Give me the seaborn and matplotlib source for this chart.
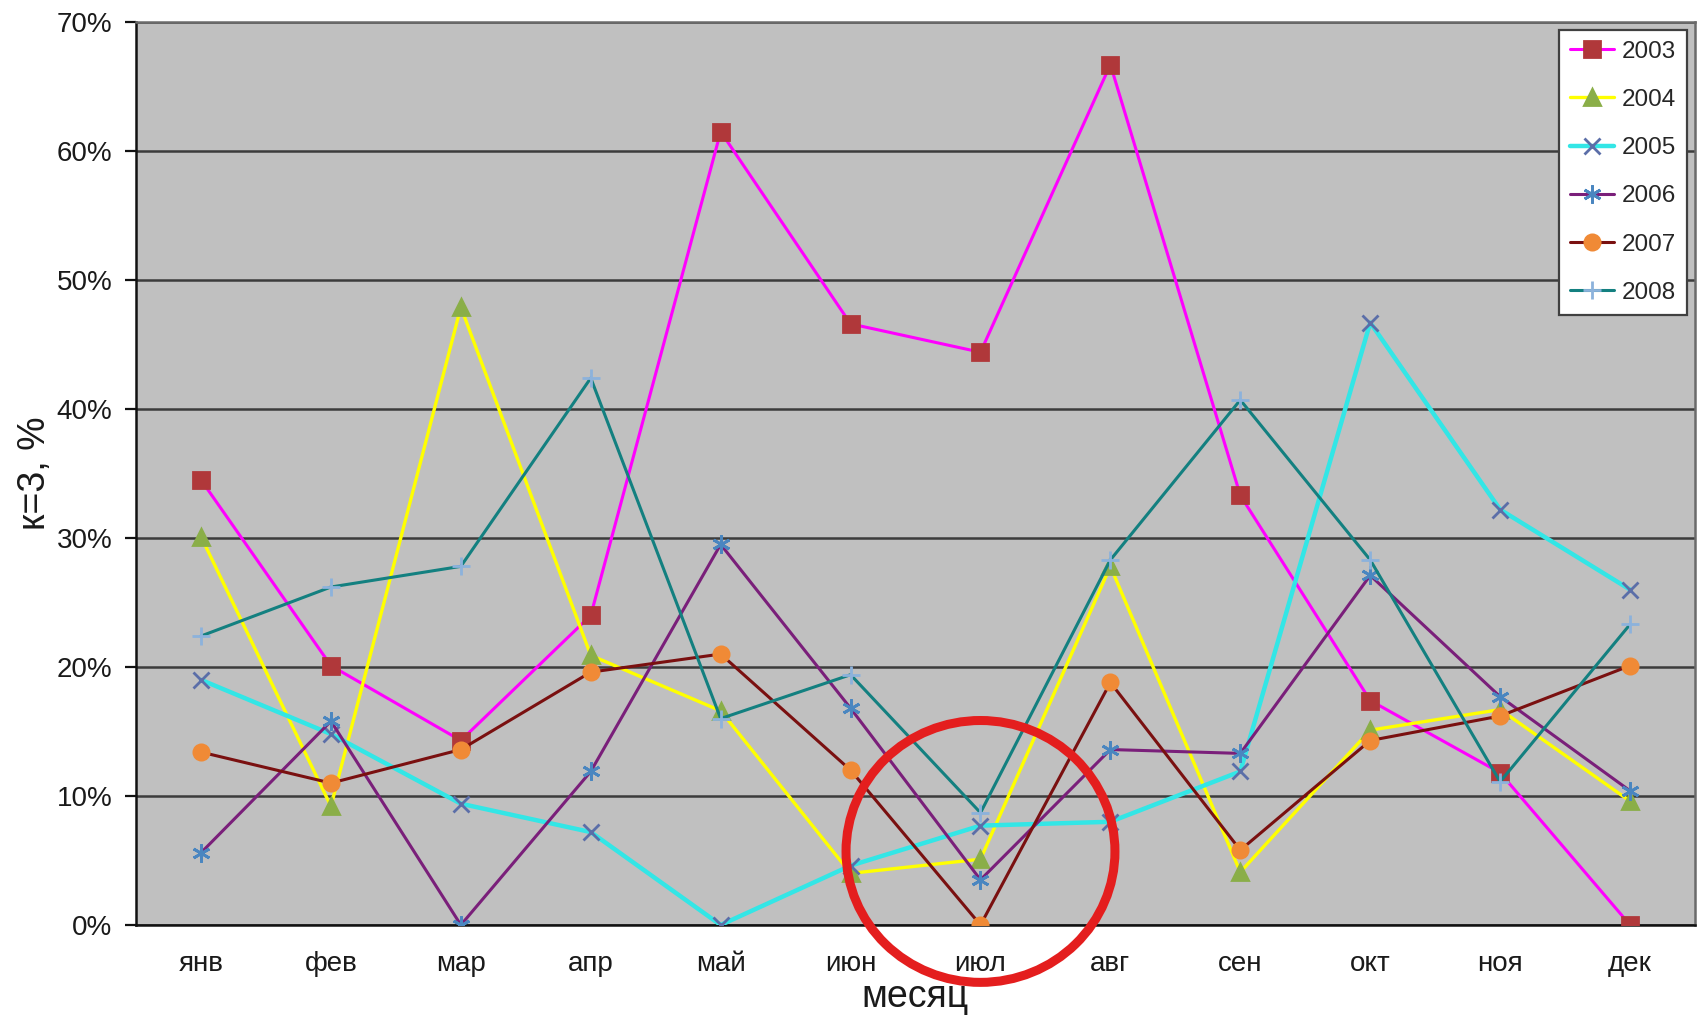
import matplotlib
matplotlib.use("Agg")
import matplotlib.pyplot as plt
from matplotlib.patches import Ellipse
from matplotlib.ticker import PercentFormatter, FixedLocator
import numpy as np
import pandas as pd
import seaborn as sns

months = ['янв', 'фев', 'мар', 'апр', 'май', 'июн', 'июл', 'авг', 'сен', 'окт', 'ноя', 'дек']
years = ['2003', '2004', '2005', '2006', '2007', '2008']

k2003 = [34.5, 20.1, 14.3, 24.0, 61.5, 46.6, 44.4, 66.7, 33.3, 17.4, 11.8, 0.0]
k2004 = [30.1, 9.2, 47.9, 20.9, 16.6, 4.0, 5.1, 27.8, 4.1, 15.1, 16.7, 9.6]
k2005 = [19.0, 14.8, 9.4, 7.2, 0.0, 4.6, 7.7, 8.0, 11.9, 46.7, 32.2, 26.0]
k2006 = [5.6, 15.8, 0.0, 11.9, 29.5, 16.8, 3.5, 13.6, 13.3, 27.1, 17.7, 10.4]
k2007 = [13.4, 11.0, 13.6, 19.6, 21.0, 12.0, 0.0, 18.8, 5.8, 14.3, 16.2, 20.1]
k2008 = [22.4, 26.2, 27.8, 42.4, 16.0, 19.4, 8.7, 28.3, 40.7, 28.3, 11.1, 23.3]

series = [k2003, k2004, k2005, k2006, k2007, k2008]

df = pd.DataFrame({
    'pos': np.tile(np.arange(len(months)), len(years)),
    'month': months * len(years),
    'year': np.repeat(years, len(months)),
    'k': np.concatenate(series),
})

# line colour, marker, marker colour, line width per year
styles = {
    '2003': dict(color='#FF00FF', marker='s', mc='#B0383A', lw=2.2, ms=11),
    '2004': dict(color='#FFFF00', marker='^', mc='#8AAE48', lw=2.4, ms=12),
    '2005': dict(color='#33E6E6', marker='x', mc='#5B6EA8', lw=3.2, ms=11),
    '2006': dict(color='#7A1F7A', marker=(6, 2, 0), mc='#4A86C0', lw=2.2, ms=13),
    '2007': dict(color='#7A1010', marker='o', mc='#F08A36', lw=2.2, ms=11),
    '2008': dict(color='#138080', marker='+', mc='#8CB2DC', lw=2.2, ms=13),
}

sns.set_style("white")
plt.rcParams['font.family'] = ['Liberation Sans', 'DejaVu Sans']

fig = plt.figure(figsize=(17.01, 10.16), dpi=100)
ax = fig.add_axes([0.0800, 0.0896, 0.99647 - 0.0800, 0.97835 - 0.0896])
ax.set_facecolor('#C0C0C0')

for yr in years:
    st = styles[yr]
    sub = df[df['year'] == yr]
    sns.lineplot(data=sub, x='pos', y='k', ax=ax, color=st['color'], lw=st['lw'],
                 marker=st['marker'], markersize=st['ms'],
                 markerfacecolor=st['mc'], markeredgecolor=st['mc'],
                 markeredgewidth=2.0, label=yr, sort=False, zorder=3)

ax.set_xlim(-0.5, len(months) - 0.5)
ax.set_ylim(0, 70)

# horizontal gridlines
ax.yaxis.set_major_locator(FixedLocator(np.arange(0, 71, 10)))
ax.yaxis.set_major_formatter(PercentFormatter(xmax=100, decimals=0))
ax.grid(axis='y', color='#3C3C3C', lw=1.8, zorder=1)
ax.grid(axis='x', visible=False)
ax.set_axisbelow(True)

# category labels centred, tick marks between categories
ax.xaxis.set_major_locator(FixedLocator(np.arange(len(months))))
ax.set_xticklabels(months)
ax.xaxis.set_minor_locator(FixedLocator(np.arange(-0.5, len(months), 1.0)))
ax.tick_params(axis='x', which='major', length=0, pad=19, labelsize=20, labelcolor='#1a1a1a')
ax.tick_params(axis='x', which='minor', length=8, width=1.6, color='#111111', direction='out')
ax.tick_params(axis='y', which='major', length=8, width=1.6, color='#111111', direction='out',
               pad=9, labelsize=20, labelcolor='#1a1a1a')
ax.tick_params(left=True, bottom=True)

for side in ['left', 'bottom']:
    ax.spines[side].set_color('#111111')
    ax.spines[side].set_linewidth(1.8)
for side in ['top', 'right']:
    ax.spines[side].set_color('#6A6A6A')
    ax.spines[side].set_linewidth(1.8)

ax.set_xlabel('')
ax.set_ylabel('к=3, %', fontsize=27, color='#1a1a1a', labelpad=3)

fig.text(0.5382, 0.0085, 'месяц', ha='center', va='baseline', fontsize=27, color='#1a1a1a')

# highlight around July
ax.add_patch(Ellipse((6, 5.7), width=2.07, height=20.3, fill=False,
                     edgecolor='#E41E1E', lw=6.5, clip_on=False, zorder=5))

leg = ax.legend(loc='upper right', bbox_to_anchor=(0.995, 0.9916), fontsize=17.5,
                frameon=True, fancybox=False, framealpha=1.0, edgecolor='#404040',
                handlelength=1.8, labelspacing=1.08, borderpad=0.45, handletextpad=0.35,
                borderaxespad=0.0)
leg.get_frame().set_linewidth(1.6)
leg.set_zorder(6)

fig.savefig('out.png', dpi=100, facecolor='white')
